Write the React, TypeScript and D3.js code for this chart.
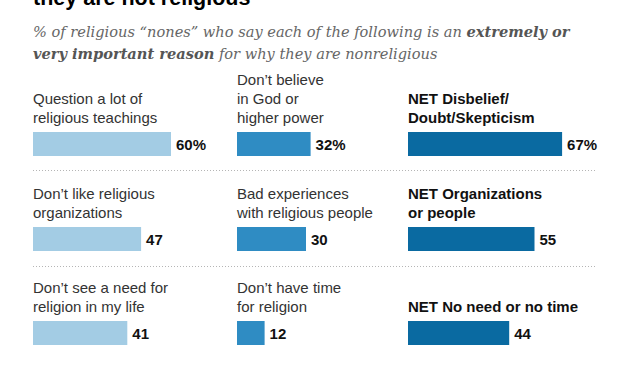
import React from "react";
import * as d3 from "d3";

const W = 625;
const H = 375;

const title = "they are not religious";
const subtitleLine1 = ["% of religious “nones” who say each of the following is an ", "extremely or"];
const subtitleLine2 = ["very important reason", " for why they are nonreligious"];

const col1Labels = [["Question a lot of", "religious teachings"], ["Don’t like religious", "organizations"], ["Don’t see a need for", "religion in my life"]];
const col2Labels = [["Don’t believe", "in God or", "higher power"], ["Bad experiences", "with religious people"], ["Don’t have time", "for religion"]];
const col3Labels = [["NET Disbelief/", "Doubt/Skepticism"], ["NET Organizations", "or people"], ["NET No need or no time"]];
const col1Values = [60, 47, 41];
const col2Values = [32, 30, 12];
const col3Values = [67, 55, 44];
const valueSuffix = ["%", "", ""];

const colors = ["#a3cce4", "#2f8cc3", "#0a6aa1"];
const colX = [33, 237, 408];
const barTops = [132, 227, 321];
const dividerYs = [170, 266];

export default function App() {
  const x = d3.scaleLinear().domain([0, 100]).range([0, 230]);
  const cols = [
    { labels: col1Labels, values: col1Values, bold: false },
    { labels: col2Labels, values: col2Values, bold: false },
    { labels: col3Labels, values: col3Values, bold: true },
  ];
  const barH = 24;
  const lineH = 19;
  const sans = "'Liberation Sans', Arial, sans-serif";
  const serif = "'DejaVu Serif', Georgia, serif";
  return (
    <svg width={W} height={H} style={{ position: "absolute", left: 0, top: 0, background: "#fff" }}>
      <rect width={W} height={H} fill="#fff" />
      <text x={33} y={5} fontFamily={sans} fontWeight="bold" fontSize={21.5} fill="#000">{title}</text>
      <text x={33} y={37} fontFamily={serif} fontStyle="italic" fontSize={14.6} fill="#666">
        <tspan>{subtitleLine1[0]}</tspan>
        <tspan fontWeight="bold" fill="#555">{subtitleLine1[1]}</tspan>
      </text>
      <text x={33} y={59} fontFamily={serif} fontStyle="italic" fontSize={14.6} fill="#666">
        <tspan fontWeight="bold" fill="#555">{subtitleLine2[0]}</tspan>
        <tspan>{subtitleLine2[1]}</tspan>
      </text>
      {dividerYs.map((y, i) => (
        <line key={i} x1={33} x2={597} y1={y + 0.5} y2={y + 0.5} stroke="#b5b5b5" strokeWidth={1} strokeDasharray="1,2" />
      ))}
      {cols.map((c, ci) =>
        c.values.map((v, ri) => {
          const top = barTops[ri];
          const lines = c.labels[ri];
          return (
            <g key={`${ci}-${ri}`}>
              {lines.map((ln, li) => (
                <text
                  key={li}
                  x={colX[ci]}
                  y={top - 9 - (lines.length - 1 - li) * lineH}
                  fontFamily={sans}
                  fontSize={15}
                  fontWeight={c.bold ? "bold" : "normal"}
                  fill={c.bold ? "#111" : "#333"}
                >
                  {ln}
                </text>
              ))}
              <rect x={colX[ci]} y={top} width={x(v)} height={barH} fill={colors[ci]} />
              <text x={colX[ci] + x(v) + 5} y={top + barH / 2 + 5.5} fontFamily={sans} fontWeight="bold" fontSize={15} fill="#111">
                {v}{valueSuffix[ri]}
              </text>
            </g>
          );
        })
      )}
    </svg>
  );
}
